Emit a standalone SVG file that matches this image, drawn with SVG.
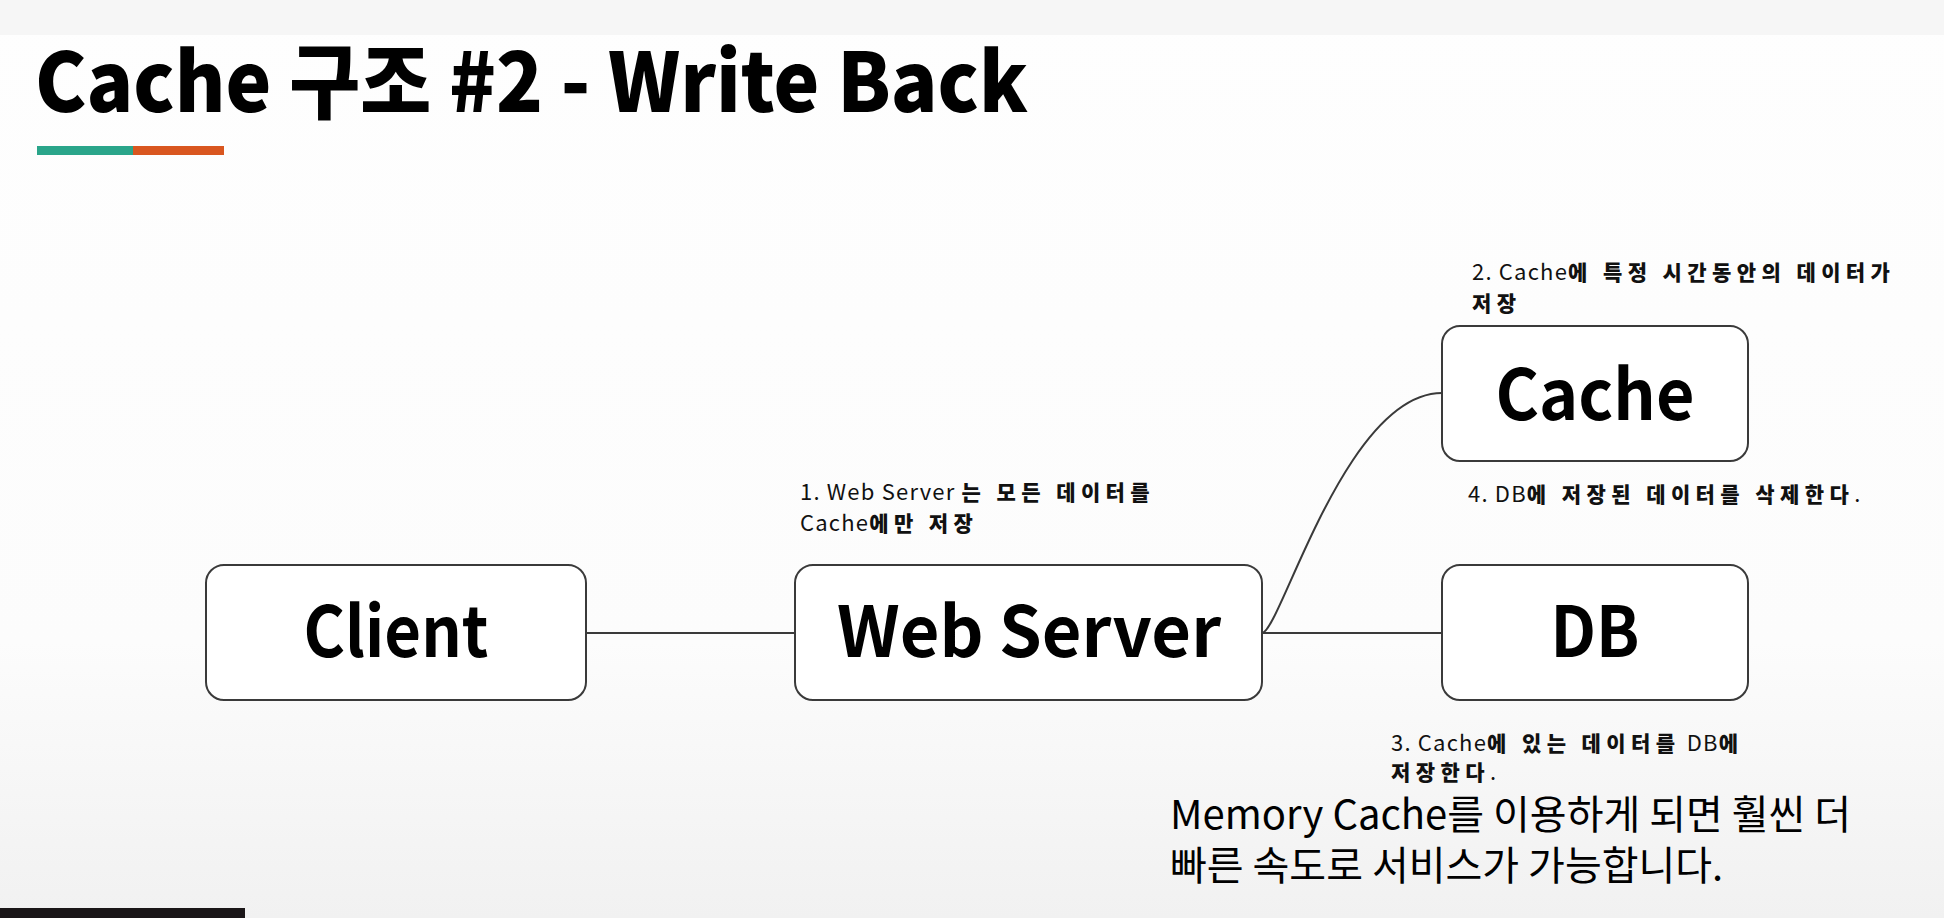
<svg xmlns="http://www.w3.org/2000/svg" width="1944" height="918" viewBox="0 0 1944 918">
<defs>
<linearGradient id="bg" x1="0" y1="0" x2="0" y2="1">
<stop offset="0" stop-color="#fefefe"/>
<stop offset="0.7" stop-color="#fcfcfc"/>
<stop offset="1" stop-color="#f1f1f1"/>
</linearGradient>
<style>
.node rect{fill:#ffffff;stroke:#3a3a3a;stroke-width:2}
.nl{font-family:"Noto Sans CJK KR","Noto Sans",sans-serif;font-weight:700;font-size:70px;fill:#000;text-anchor:middle}
.lbl{font-family:"Noto Sans CJK KR","Noto Sans",sans-serif;font-size:22px;fill:#111;letter-spacing:1.2px}
.lbl .k{font-weight:900;font-size:21px;letter-spacing:5.4px}
.conn path{fill:none;stroke:#3a3a3a;stroke-width:2}
.big{font-family:"Noto Sans CJK KR","Noto Sans",sans-serif;font-size:40px;fill:#000}
</style>
</defs>
<rect x="0" y="0" width="1944" height="918" fill="url(#bg)"/>
<rect x="0" y="0" width="1944" height="35" fill="#f6f6f6"/>
<rect x="0" y="908" width="245" height="10" fill="#1a1618"/>
<g id="title">
<text x="35" y="112" font-family="'Noto Sans CJK KR','Noto Sans',sans-serif" font-weight="900" font-size="82" fill="#000" textLength="993" lengthAdjust="spacingAndGlyphs">Cache 구조 #2 - Write Back</text>
<rect x="37" y="146" width="96" height="9" fill="#2aa58a"/>
<rect x="133" y="146" width="91" height="9" fill="#d9561f"/>
</g>
<g id="connectors" class="conn">
<path d="M586 633 L795 633"/>
<path d="M1262 633 L1442 633"/>
<path d="M1262 633 C1280 633 1345 393 1442 393"/>
</g>
<g id="client" class="node">
<rect x="206" y="565" width="380" height="135" rx="18"/>
<text class="nl" x="396" y="657" textLength="185" lengthAdjust="spacingAndGlyphs">Client</text>
</g>
<g id="webserver" class="node">
<rect x="795" y="565" width="467" height="135" rx="18"/>
<text class="nl" x="1029" y="657" textLength="384" lengthAdjust="spacingAndGlyphs">Web Server</text>
</g>
<g id="cache" class="node">
<rect x="1442" y="326" width="306" height="135" rx="18"/>
<text class="nl" x="1595" y="420" textLength="199" lengthAdjust="spacingAndGlyphs">Cache</text>
</g>
<g id="db" class="node">
<rect x="1442" y="565" width="306" height="135" rx="18"/>
<text class="nl" x="1595" y="657" textLength="89" lengthAdjust="spacingAndGlyphs">DB</text>
</g>
<g id="labels" class="lbl">
<text x="800" y="500">1. Web Server <tspan class="k">는 모든 데이터를</tspan></text>
<text x="800" y="531">Cache<tspan class="k">에만 저장</tspan></text>
<text x="1472" y="280">2. Cache<tspan class="k">에 특정 시간동안의 데이터가</tspan></text>
<text x="1472" y="311"><tspan class="k">저장</tspan></text>
<text x="1468" y="502">4. DB<tspan class="k">에 저장된 데이터를 삭제한다</tspan>.</text>
<text x="1391" y="751">3. Cache<tspan class="k">에 있는 데이터를</tspan> DB<tspan class="k">에</tspan></text>
<text x="1391" y="780"><tspan class="k">저장한다</tspan>.</text>
</g>
<g id="note" class="big">
<text><tspan x="1170" y="829">Memory Cache를 이용하게 되면 훨씬 더</tspan><tspan x="1170" y="880">빠른 속도로 서비스가 가능합니다.</tspan></text>
</g>
</svg>
